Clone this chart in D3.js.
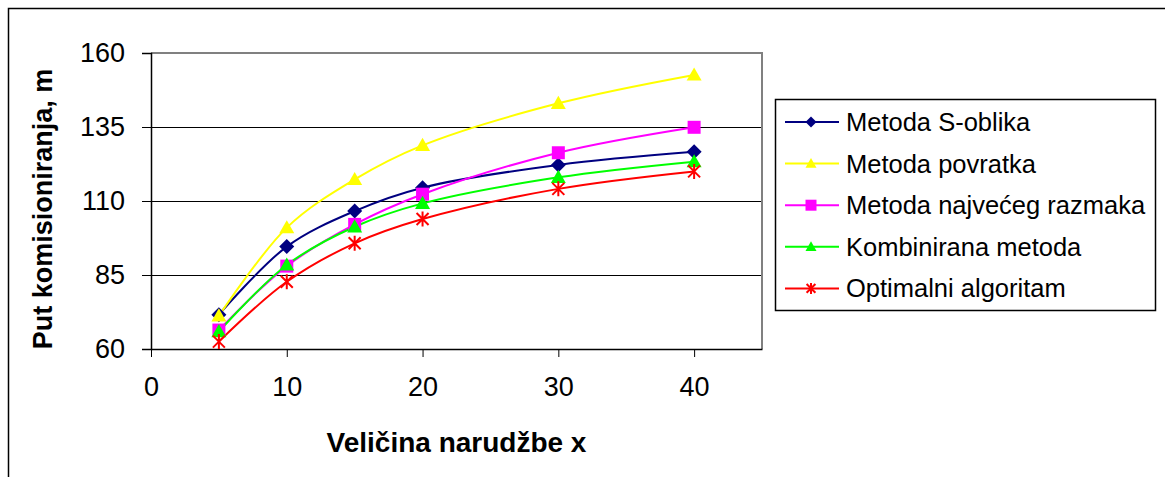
<!DOCTYPE html>
<html lang="hr">
<head>
  <meta charset="UTF-8">
  <title>Put komisioniranja</title>
  <script src="https://cdn.jsdelivr.net/npm/d3@7"></script>
  <style>
    body { margin: 0; background: #fff; }
    text { font-family: "Liberation Sans", Arial, sans-serif; }
  </style>
</head>
<body>
<svg></svg>
<script>
  // velicina narudzbe
  const orderSizes = [5, 10, 15, 20, 30, 40]

  const sShape = [71.6, 94.6, 106.6, 114.5, 122.2, 126.6]
  const returnMethod = [71.2, 101.0, 117.3, 128.8, 143.0, 152.6]
  const largestGap = [66.4, 88.0, 102.1, 112.3, 126.3, 134.9]
  const combined = [65.9, 88.4, 101.3, 109.2, 118.0, 123.3]
  const optimal = [62.5, 82.7, 95.7, 103.9, 114.1, 120.0]

  const seriesNames = ["Metoda S-oblika", "Metoda povratka", "Metoda najvećeg razmaka", "Kombinirana metoda", "Optimalni algoritam"]
  const xTicks = [0, 10, 20, 30, 40]
  const yTicks = [60, 85, 110, 135, 160]

  const series = [
    {name: seriesNames[0], values: sShape, color: "#000080", marker: "diamond"},
    {name: seriesNames[1], values: returnMethod, color: "#ffff00", marker: "triangle"},
    {name: seriesNames[2], values: largestGap, color: "#ff00ff", marker: "square"},
    {name: seriesNames[3], values: combined, color: "#00ff00", marker: "triangle"},
    {name: seriesNames[4], values: optimal, color: "#ff0000", marker: "star"}
  ]

  const width = 1165, height = 477
  const plot = {left: 151, top: 53, right: 762, bottom: 349}

  const svg = d3.select('svg')
      .attr('width', width)
      .attr('height', height)

  const x = d3.scaleLinear()
      .domain([0, 45])
      .range([plot.left, plot.right])

  const y = d3.scaleLinear()
      .domain([60, 160])
      .range([plot.bottom, plot.top])

  // outer chart frame (only top and left visible)
  svg.append("path")
      .attr("d", `M8.5,${height} V8.5 H${width}`)
      .attr("fill", "none")
      .attr("stroke", "#000")
      .attr("stroke-width", 1.5)

  // gridlines
  svg.append("g")
      .selectAll("line")
      .data(yTicks.slice(1, -1))
      .join("line")
      .attr("x1", plot.left)
      .attr("x2", plot.right)
      .attr("y1", d => Math.round(y(d)) + 0.5)
      .attr("y2", d => Math.round(y(d)) + 0.5)
      .attr("stroke", "#000")

  // plot frame top/right
  svg.append("path")
      .attr("d", `M${plot.left},${plot.top} H${plot.right} V${plot.bottom}`)
      .attr("fill", "none")
      .attr("stroke", "#808080")
      .attr("stroke-width", 2)

  const yAxis = svg.append("g")
      .attr("transform", `translate(${plot.left},0)`)
      .call(d3.axisLeft(y).tickValues(yTicks).tickSize(9).tickPadding(17))
  yAxis.select(".domain").attr("stroke", "#000").attr("stroke-width", 1.5)
  yAxis.selectAll(".tick line").attr("stroke", "#000")
  yAxis.selectAll("text")
      .attr("font-size", 27)
      .attr("fill", "#000")
      .attr("font-family", "Liberation Sans, Arial, sans-serif")

  const xAxis = svg.append("g")
      .attr("transform", `translate(0,${plot.bottom})`)
      .call(d3.axisBottom(x).tickValues(xTicks).tickSize(8).tickSizeOuter(0).tickPadding(20))
  xAxis.select(".domain").attr("stroke", "#000").attr("stroke-width", 1.5)
  xAxis.selectAll(".tick line").attr("stroke", "#000")
  xAxis.selectAll("text")
      .attr("font-size", 27)
      .attr("fill", "#000")
      .attr("font-family", "Liberation Sans, Arial, sans-serif")

  // axis titles
  svg.append("text")
      .attr("transform", "translate(52,209) rotate(-90)")
      .attr("text-anchor", "middle")
      .attr("font-size", 27)
      .attr("font-weight", "bold")
      .text("Put komisioniranja, m")

  svg.append("text")
      .attr("x", (plot.left + plot.right) / 2)
      .attr("y", 452)
      .attr("text-anchor", "middle")
      .attr("font-size", 28)
      .attr("font-weight", "bold")
      .text("Veličina narudžbe x")

  // excel-like markers, r = half width
  const markerPath = (marker, r) => {
    if (marker === "diamond") return `M0,${-r}L${r},0L0,${r}L${-r},0Z`
    if (marker === "triangle") return `M0,${-r}L${r},${r * 0.75}L${-r},${r * 0.75}Z`
    if (marker === "square") return `M${-r},${-r}H${r}V${r}H${-r}Z`
    const d = r * 0.8
    return `M0,${-r}V${r}M${-d},${-d}L${d},${d}M${d},${-d}L${-d},${d}`
  }

  const line = d3.line()
      .x((d, i) => x(orderSizes[i]))
      .y(d => y(d))
      .curve(d3.curveCatmullRom.alpha(0.5))

  const g = svg.append("g")
  series.forEach(s => {
    g.append("path")
        .datum(s.values)
        .attr("fill", "none")
        .attr("stroke", s.color)
        .attr("stroke-width", 2)
        .attr("d", line)
  })
  series.forEach(s => {
    g.append("g")
        .selectAll("path")
        .data(s.values)
        .join("path")
        .attr("transform", (d, i) => `translate(${x(orderSizes[i])},${y(d)})`)
        .attr("d", markerPath(s.marker, s.marker === "square" ? 6.5 : 7.5))
        .attr("fill", s.marker === "star" ? "none" : s.color)
        .attr("stroke", s.marker === "star" ? s.color : "none")
        .attr("stroke-width", 2)
  })

  // legend
  const legend = svg.append("g")
  legend.append("rect")
      .attr("x", 775.5)
      .attr("y", 99.5)
      .attr("width", 380)
      .attr("height", 211)
      .attr("fill", "#fff")
      .attr("stroke", "#000")
      .attr("stroke-width", 1.5)

  const item = legend.selectAll(".item")
      .data(series)
      .join("g")
      .attr("class", "item")
      .attr("transform", (d, i) => `translate(0,${122 + i * 41.6})`)
  item.append("line")
      .attr("x1", 785)
      .attr("x2", 839)
      .attr("stroke", d => d.color)
      .attr("stroke-width", 2)
  item.append("path")
      .attr("transform", "translate(811,0)")
      .attr("d", d => markerPath(d.marker, 5.5))
      .attr("fill", d => d.marker === "star" ? "none" : d.color)
      .attr("stroke", d => d.marker === "star" ? d.color : "none")
      .attr("stroke-width", 2)
  item.append("text")
      .attr("x", 846)
      .attr("dy", "0.35em")
      .attr("font-size", 25.5)
      .text(d => d.name)
</script>
</body>
</html>
